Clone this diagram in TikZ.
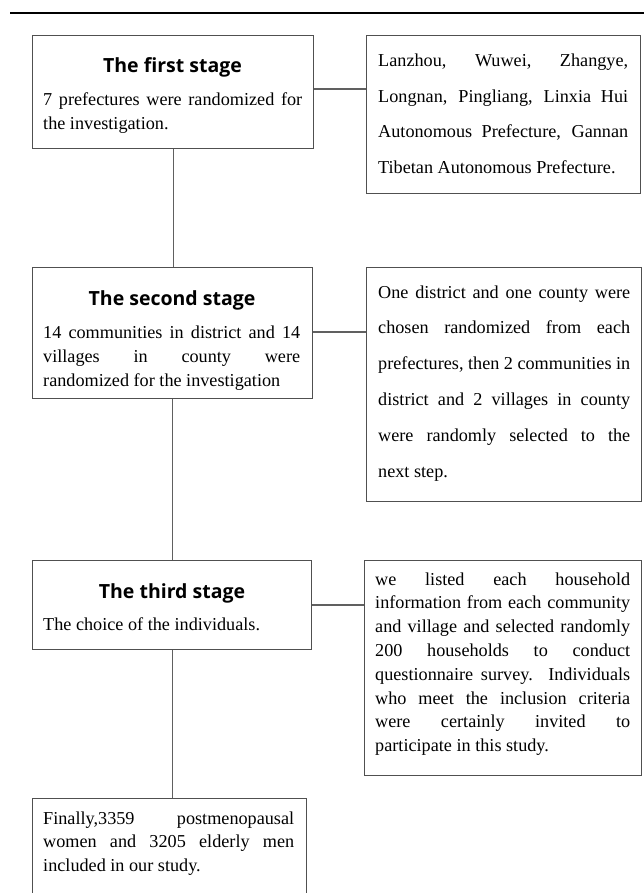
\documentclass[tikz,border=0pt]{standalone}
\usepackage{fontspec}
\setmainfont{Liberation Serif}
\newfontfamily\ttlfont{Open Sans}[BoldFont={* Bold}]
\definecolor{boxgray}{HTML}{505050}
\definecolor{linegray}{HTML}{606060}
\newcommand{\jl}[1]{\makebox[\linewidth][s]{#1}}
\begin{document}
\begin{tikzpicture}[x=1pt,y=-1pt,
  box/.style={draw=boxgray, line width=1.1pt, inner sep=0pt, anchor=north west},
  link/.style={draw=linegray, line width=1.1pt},
  ttl/.style={font=\ttlfont\bfseries\fontsize{19.5}{24}\selectfont, anchor=base, inner sep=0pt},
  txt/.style={font=\fontsize{18.2}{24}\selectfont, anchor=base west, inner sep=0pt}]
\useasboundingbox (0,0) rectangle (644,893);
\clip (0,0) rectangle (644,893);
% top rule
\coordinate (ruleL) at (10,13);
\coordinate (ruleR) at (644,13);
\draw[line width=2.7pt, black] (ruleL) -- (ruleR);

% boxes
\node[box, minimum width=281pt, minimum height=113pt] (b1) at (32,35) {};
\node[box, minimum width=274pt, minimum height=158pt] (r1) at (366,35) {};
\node[box, minimum width=280pt, minimum height=131pt] (b2) at (32,267) {};
\node[box, minimum width=275pt, minimum height=234pt] (r2) at (366,267) {};
\node[box, minimum width=279pt, minimum height=89pt] (b3) at (32,560) {};
\node[box, minimum width=277pt, minimum height=215pt] (r3) at (364,560) {};
\node[box, minimum width=274pt, minimum height=120pt] (b4) at (32,798) {};

% connectors
\coordinate (k1) at (0,89);
\coordinate (k2) at (0,332);
\coordinate (k3) at (0,605);
\draw[link] (b1.east |- k1) -- (r1.west |- k1);
\draw[link] (b2.east |- k2) -- (r2.west |- k2);
\draw[link] (b3.east |- k3) -- (r3.west |- k3);
\draw[link] (b1.south) -- (b1.south |- b2.north);
\draw[link] (b2.south) -- (b2.south |- b3.north);
\draw[link] (b3.south) -- (b3.south |- b4.north);

% stage 1
\node[ttl] (t1) at (172.5,73) {The first stage};
\node[txt] (p1) at (43,106) {\parbox[t]{259pt}{\baselineskip=24pt
\jl{7 prefectures were randomized for}\\
the investigation.}};
\node[txt] (q1) at (378,67) {\parbox[t]{250pt}{\baselineskip=35.4pt
\jl{Lanzhou, Wuwei, Zhangye,}\\
\jl{Longnan, Pingliang, Linxia Hui}\\
\jl{Autonomous Prefecture, Gannan}\\
Tibetan Autonomous Prefecture.}};

% stage 2
\node[ttl] (t2) at (172,305) {The second stage};
\node[txt] (p2) at (43,338) {\parbox[t]{257pt}{\baselineskip=24pt
\jl{14 communities in district and 14}\\
\jl{villages in county were}\\
randomized for the investigation}};
\node[txt] (q2) at (378,298) {\parbox[t]{252pt}{\baselineskip=35.8pt
\jl{One district and one county were}\\
\jl{chosen randomized from each}\\
\jl{prefectures, then 2 communities in}\\
\jl{district and 2 villages in county}\\
\jl{were randomly selected to the}\\
next step.}};

% stage 3
\node[ttl] (t3) at (172,598) {The third stage};
\node[txt] (p3) at (43,630) {The choice of the individuals.};
\node[txt] (q3) at (375,585) {\parbox[t]{255pt}{\baselineskip=23.8pt
\jl{we listed each household}\\
\jl{information from each community}\\
\jl{and village and selected randomly}\\
\jl{200 households to conduct}\\
\jl{questionnaire survey. Individuals}\\
\jl{who meet the inclusion criteria}\\
\jl{were certainly invited to}\\
participate in this study.}};

% final
\node[txt] (p4) at (43,824) {\parbox[t]{251pt}{\baselineskip=23.5pt
\jl{Finally,3359 postmenopausal}\\
\jl{women and 3205 elderly men}\\
included in our study.}};
\end{tikzpicture}
\end{document}
